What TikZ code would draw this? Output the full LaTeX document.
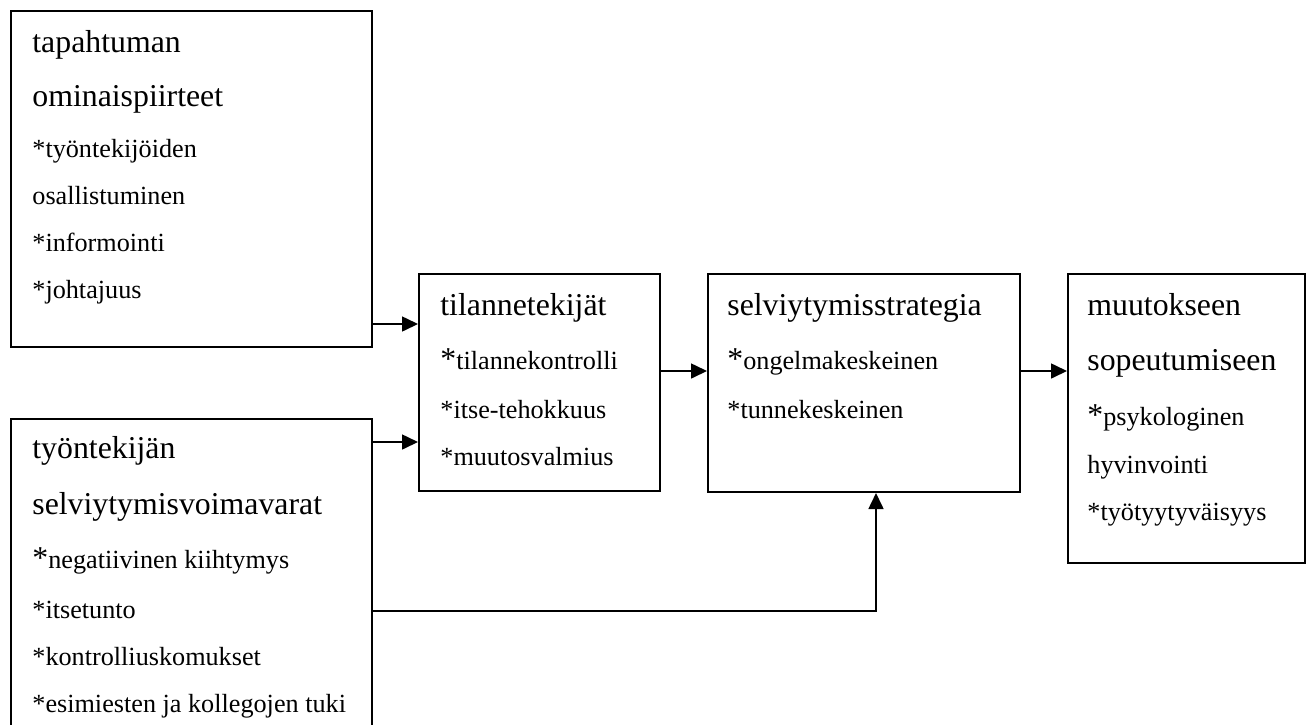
\documentclass[tikz,border=0pt]{standalone}
\usepackage{fontspec}
\setmainfont{Liberation Serif}
\usepackage{tikz}
\usetikzlibrary{arrows.meta,positioning,calc}
\newcommand{\ttl}{\fontsize{15.9}{23.5}\selectfont}
\newcommand{\itm}{\fontsize{13.1}{23.5}\selectfont}
\newcommand{\bast}{{\ttl*}}
\tikzset{
  frame/.style={draw,line width=1pt,inner sep=0pt,anchor=north west},
  body/.style={inner sep=0pt,anchor=north west,align=left,font=\itm},
  arrow/.style={-{Triangle[length=8pt,width=7.5pt]},line width=0.8pt}
}
\begin{document}
\begin{tikzpicture}[x=0.5pt,y=-0.5pt]
  \useasboundingbox (0,0) rectangle (1311,724);
  \node[frame,minimum width=180.5pt,minimum height=168pt] (event) at (10,10) {};
  \node[frame,minimum width=180.5pt,minimum height=155pt] (res) at (10,418) {};
  \node[frame,minimum width=120.5pt,minimum height=108.5pt] (sit) at (418,273) {};
  \node[frame,minimum width=156pt,minimum height=109pt] (strat) at (707,273) {};
  \node[frame,minimum width=118.5pt,minimum height=144.5pt] (adapt) at (1067,273) {};

  \node[body] (eventtxt) at ([xshift=11pt,yshift=-10.1pt]event.north west)
    {\ttl tapahtuman\\[3.5pt]\ttl ominaispiirteet\\[2pt]*työntekijöiden\\osallistuminen\\*informointi\\*johtajuus};
  \node[body] (restxt) at ([xshift=11pt,yshift=-9.1pt]res.north west)
    {\ttl työntekijän\\[4.5pt]\ttl selviytymisvoimavarat\\[3.5pt]\bast negatiivinen kiihtymys\\[1.5pt]*itsetunto\\*kontrolliuskomukset\\*esimiesten ja kollegojen tuki};
  \node[body] (sittxt) at ([xshift=11pt,yshift=-10.1pt]sit.north west)
    {\ttl tilannetekijät\\[3.5pt]\bast tilannekontrolli\\[1pt]*itse-tehokkuus\\*muutosvalmius};
  \node[body] (strattxt) at ([xshift=10pt,yshift=-10.1pt]strat.north west)
    {\ttl selviytymisstrategia\\[3.5pt]\bast ongelmakeskeinen\\[1pt]*tunnekeskeinen};
  \node[body] (adapttxt) at ([xshift=10pt,yshift=-10.1pt]adapt.north west)
    {\ttl muutokseen\\[4pt]\ttl sopeutumiseen\\[4pt]\bast psykologinen\\[0.5pt]hyvinvointi\\*työtyytyväisyys};

  \draw[arrow] ([yshift=12pt]event.south east) coordinate (e1) -- (e1 -| sit.west);
  \draw[arrow] ([yshift=-12pt]res.north east) coordinate (r1) -- (r1 -| sit.west);
  \draw[arrow] ([yshift=-49pt]sit.north east) coordinate (s1) -- (s1 -| strat.west);
  \draw[arrow] ([yshift=-49pt]strat.north east) coordinate (s2) -- (s2 -| adapt.west);
  \draw[arrow] ([yshift=-96.5pt]res.north east) -| ([xshift=6pt]strat.south);
\end{tikzpicture}
\end{document}
